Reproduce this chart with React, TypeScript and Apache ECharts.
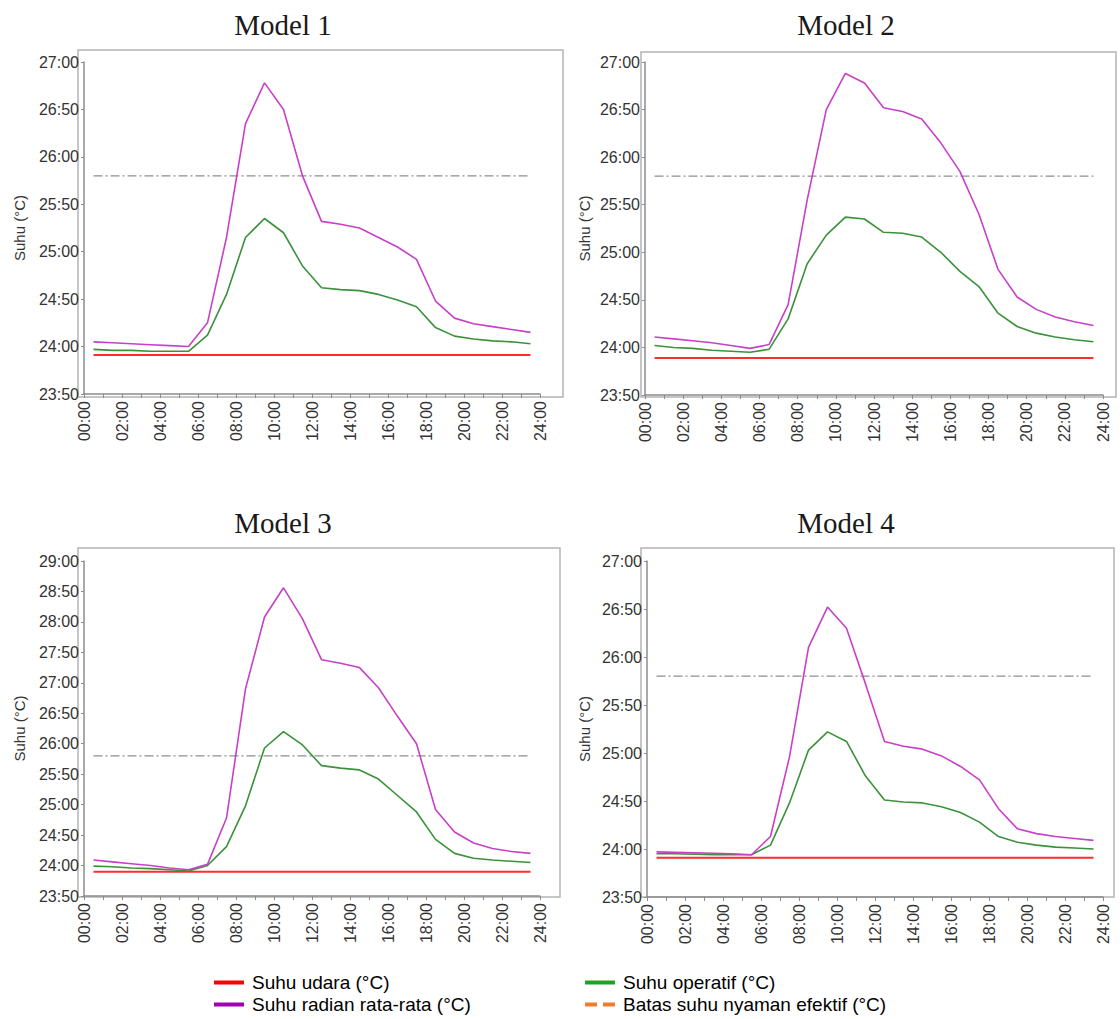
import React, { useEffect, useRef } from "react";
import * as echarts from "echarts";

// Hours (mid-hour sample points)
const HOURS = [0.5, 1.5, 2.5, 3.5, 4.5, 5.5, 6.5, 7.5, 8.5, 9.5, 10.5, 11.5, 12.5, 13.5, 14.5, 15.5, 16.5, 17.5, 18.5, 19.5, 20.5, 21.5, 22.5, 23.5];

const MODEL_TITLES = ["Model 1", "Model 2", "Model 3", "Model 4"];
const SERIES_NAMES = ["Suhu udara (°C)", "Suhu radian rata-rata (°C)", "Suhu operatif (°C)", "Batas suhu nyaman efektif (°C)"];

// Model 1
const AIR_M1 = [23.91, 23.91, 23.91, 23.91, 23.91, 23.91, 23.91, 23.91, 23.91, 23.91, 23.91, 23.91, 23.91, 23.91, 23.91, 23.91, 23.91, 23.91, 23.91, 23.91, 23.91, 23.91, 23.91, 23.91];
const MRT_M1 = [24.05, 24.04, 24.03, 24.02, 24.01, 24.0, 24.25, 25.15, 26.35, 26.78, 26.5, 25.8, 25.32, 25.29, 25.25, 25.15, 25.05, 24.92, 24.48, 24.3, 24.24, 24.21, 24.18, 24.15];
const OPR_M1 = [23.97, 23.96, 23.96, 23.95, 23.95, 23.95, 24.12, 24.55, 25.15, 25.35, 25.2, 24.85, 24.62, 24.6, 24.59, 24.55, 24.49, 24.42, 24.2, 24.11, 24.08, 24.06, 24.05, 24.03];

// Model 2
const AIR_M2 = [23.89, 23.89, 23.89, 23.89, 23.89, 23.89, 23.89, 23.89, 23.89, 23.89, 23.89, 23.89, 23.89, 23.89, 23.89, 23.89, 23.89, 23.89, 23.89, 23.89, 23.89, 23.89, 23.89, 23.89];
const MRT_M2 = [24.11, 24.09, 24.07, 24.05, 24.02, 23.99, 24.03, 24.45, 25.55, 26.5, 26.88, 26.78, 26.52, 26.48, 26.4, 26.15, 25.85, 25.4, 24.82, 24.53, 24.4, 24.32, 24.27, 24.23];
const OPR_M2 = [24.02, 24.0, 23.99, 23.97, 23.96, 23.95, 23.98, 24.3, 24.88, 25.18, 25.37, 25.35, 25.21, 25.2, 25.16, 25.0, 24.8, 24.64, 24.36, 24.22, 24.15, 24.11, 24.08, 24.06];

// Model 3
const AIR_M3 = [23.9, 23.9, 23.9, 23.9, 23.9, 23.9, 23.9, 23.9, 23.9, 23.9, 23.9, 23.9, 23.9, 23.9, 23.9, 23.9, 23.9, 23.9, 23.9, 23.9, 23.9, 23.9, 23.9, 23.9];
const MRT_M3 = [24.09, 24.06, 24.03, 24.0, 23.96, 23.93, 24.02, 24.78, 26.9, 28.08, 28.56, 28.05, 27.38, 27.32, 27.25, 26.92, 26.45, 26.0, 24.92, 24.55, 24.37, 24.28, 24.23, 24.2];
const OPR_M3 = [23.99, 23.98, 23.96, 23.95, 23.93, 23.91, 24.0, 24.31, 24.98, 25.93, 26.2, 25.98, 25.64, 25.6, 25.57, 25.42, 25.15, 24.88, 24.43, 24.2, 24.12, 24.09, 24.07, 24.05];

// Model 4
const AIR_M4 = [23.91, 23.91, 23.91, 23.91, 23.91, 23.91, 23.91, 23.91, 23.91, 23.91, 23.91, 23.91, 23.91, 23.91, 23.91, 23.91, 23.91, 23.91, 23.91, 23.91, 23.91, 23.91, 23.91, 23.91];
const MRT_M4 = [23.97, 23.965, 23.96, 23.955, 23.95, 23.94, 24.13, 24.96, 26.1, 26.52, 26.3, 25.72, 25.12, 25.07, 25.04, 24.97, 24.86, 24.72, 24.42, 24.21, 24.16, 24.13, 24.11, 24.09];
const OPR_M4 = [23.95, 23.95, 23.945, 23.94, 23.94, 23.94, 24.04, 24.48, 25.03, 25.22, 25.12, 24.76, 24.51, 24.49, 24.48, 24.44, 24.38, 24.28, 24.13, 24.07, 24.04, 24.02, 24.01, 24.0];

// Threshold (comfort limit)
const THRESHOLD_X = [0.5, 23.5];
const THRESHOLD_Y = [25.8, 25.8];

const AIR = [AIR_M1, AIR_M2, AIR_M3, AIR_M4];
const MRT = [MRT_M1, MRT_M2, MRT_M3, MRT_M4];
const OPR = [OPR_M1, OPR_M2, OPR_M3, OPR_M4];
const Y_MIN = [23.5, 23.5, 23.5, 23.5];
const Y_MAX = [27, 27, 29, 27];
const Y_INTERVAL = 0.5;
const X_MIN = 0;
const X_MAX = 24;
const X_INTERVAL = 2;

const GRIDS = [
  { left: 84, top: 62, width: 456, height: 332 },
  { left: 645, top: 62, width: 458, height: 333 },
  { left: 84, top: 561, width: 456, height: 335 },
  { left: 647, top: 561, width: 456, height: 336 },
];
const FRAMES = [
  { x: 78, y: 50, w: 485, h: 347 },
  { x: 641, y: 52, w: 475, h: 345 },
  { x: 78, y: 548, w: 482, h: 349 },
  { x: 641, y: 548, w: 473, h: 349 },
];
const TITLE_POS = [
  { x: 283, y: 25 },
  { x: 846, y: 25 },
  { x: 283, y: 523 },
  { x: 846, y: 523 },
];
const NAME_GAPS = [57, 53, 57, 55];

const COLORS = {
  air: "#ff2d2d",
  mrt: "#c840c8",
  opr: "#3a923a",
  thr: "#8f8f8f",
};
const LEGEND_COLORS = ["#ff0000", "#a000b0", "#22a022", "#ed7d31"];

const SANS = "Liberation Sans, Arial, sans-serif";

function pairs(xs: number[], ys: number[]) {
  return xs.map((x, i) => [x, ys[i]]);
}

export default function App() {
  const ref = useRef<HTMLDivElement>(null);

  useEffect(() => {
    if (!ref.current) return;
    const chart = echarts.init(ref.current, undefined, { renderer: "svg" });

    const xAxis: any[] = [];
    const yAxis: any[] = [];
    const series: any[] = [];
    const graphic: any[] = [];

    for (let i = 0; i < 4; i++) {
      graphic.push({
        type: "rect",
        silent: true,
        z: -1,
        shape: { x: FRAMES[i].x, y: FRAMES[i].y, width: FRAMES[i].w, height: FRAMES[i].h },
        style: { fill: "none", stroke: "#b4b4b4", lineWidth: 1.5 },
      });
      graphic.push({
        type: "text",
        silent: true,
        x: TITLE_POS[i].x,
        y: TITLE_POS[i].y,
        style: {
          text: MODEL_TITLES[i],
          fill: "#1a1a1a",
          font: "29px 'Liberation Serif', 'Times New Roman', serif",
          textAlign: "center",
          textVerticalAlign: "middle",
        },
      });

      xAxis.push({
        type: "value",
        gridIndex: i,
        min: X_MIN,
        max: X_MAX,
        interval: X_INTERVAL,
        axisLine: { show: true, lineStyle: { color: "#8c8c8c", width: 1.5 } },
        axisTick: { show: true, inside: false, length: 4, lineStyle: { color: "#8c8c8c" } },
        minorTick: { show: true, splitNumber: 2, length: 4, lineStyle: { color: "#8c8c8c" } },
        splitLine: { show: false },
        axisLabel: {
          rotate: 90,
          margin: 7,
          color: "#333",
          fontSize: 16,
          fontFamily: SANS,
          formatter: (v: number) => String(v).padStart(2, "0") + ":00",
        },
      });
      yAxis.push({
        type: "value",
        gridIndex: i,
        min: Y_MIN[i],
        max: Y_MAX[i],
        interval: Y_INTERVAL,
        name: "Suhu (°C)",
        nameLocation: "middle",
        nameGap: NAME_GAPS[i],
        nameTextStyle: { color: "#333", fontSize: 15, fontFamily: SANS },
        axisLine: { show: true, lineStyle: { color: "#8c8c8c", width: 1.5 } },
        axisTick: { show: true, length: 3, lineStyle: { color: "#8c8c8c" } },
        splitLine: { show: false },
        axisLabel: {
          margin: 5,
          color: "#333",
          fontSize: 16,
          fontFamily: SANS,
          formatter: (v: number) => v.toFixed(2).replace(".", ":"),
        },
      });

      const common = { xAxisIndex: i, yAxisIndex: i, type: "line", symbol: "none", showSymbol: false };
      series.push({
        ...common,
        name: SERIES_NAMES[3],
        data: pairs(THRESHOLD_X, THRESHOLD_Y),
        lineStyle: { color: COLORS.thr, width: 1.3, type: [9, 3, 2, 3] },
        itemStyle: { color: COLORS.thr },
        z: 1,
      });
      series.push({
        ...common,
        name: SERIES_NAMES[0],
        data: pairs(HOURS, AIR[i]),
        lineStyle: { color: COLORS.air, width: 2 },
        itemStyle: { color: COLORS.air },
        z: 2,
      });
      series.push({
        ...common,
        name: SERIES_NAMES[2],
        data: pairs(HOURS, OPR[i]),
        lineStyle: { color: COLORS.opr, width: 1.6 },
        itemStyle: { color: COLORS.opr },
        z: 3,
      });
      series.push({
        ...common,
        name: SERIES_NAMES[1],
        data: pairs(HOURS, MRT[i]),
        lineStyle: { color: COLORS.mrt, width: 1.6 },
        itemStyle: { color: COLORS.mrt },
        z: 4,
      });
    }

    const solidIcon = "rect";
    const dashIcon = "path://M0,0h12v4h-12z M18,0h12v4h-12z";
    const legendCommon = {
      orient: "vertical",
      top: 973,
      height: 46,
      padding: 0,
      itemWidth: 30,
      itemHeight: 4,
      itemGap: 3,
      selectedMode: false,
      textStyle: { color: "#000", fontSize: 19, fontFamily: SANS, padding: [0, 0, 0, 3] },
    };

    chart.setOption({
      animation: false,
      backgroundColor: "#ffffff",
      grid: GRIDS.map((g) => ({ ...g, containLabel: false })),
      xAxis,
      yAxis,
      series,
      graphic,
      legend: [
        {
          ...legendCommon,
          left: 214,
          data: [
            { name: SERIES_NAMES[0], icon: solidIcon, itemStyle: { color: LEGEND_COLORS[0] } },
            { name: SERIES_NAMES[1], icon: solidIcon, itemStyle: { color: LEGEND_COLORS[1] } },
          ],
        },
        {
          ...legendCommon,
          left: 585,
          data: [
            { name: SERIES_NAMES[2], icon: solidIcon, itemStyle: { color: LEGEND_COLORS[2] } },
            { name: SERIES_NAMES[3], icon: dashIcon, itemStyle: { color: LEGEND_COLORS[3] } },
          ],
        },
      ],
    });

    return () => chart.dispose();
  }, []);

  return (
    <div
      ref={ref}
      style={{ position: "absolute", left: 0, top: 0, width: 1120, height: 1019, background: "#fff" }}
    />
  );
}
